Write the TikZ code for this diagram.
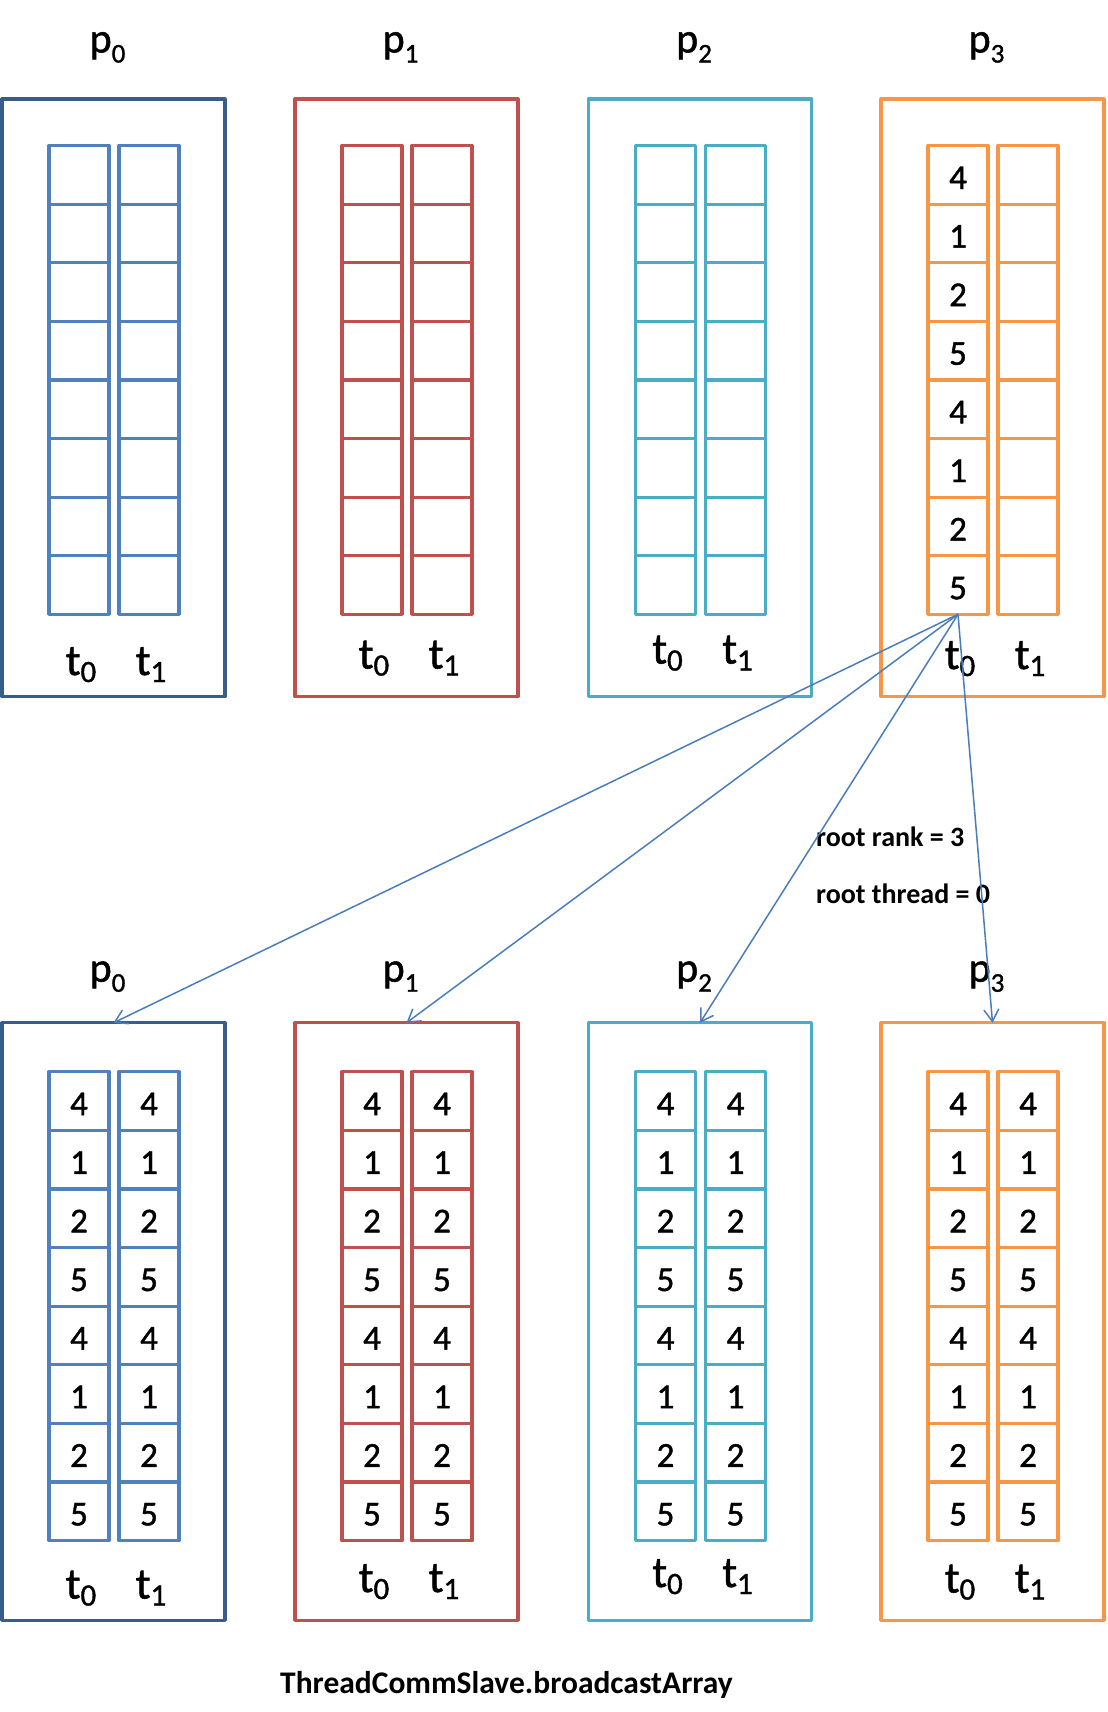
\documentclass[tikz,border=0pt]{standalone}
\usepackage{fontspec}
\setmainfont{Carlito}
\newfontfamily\medfont{Carlito}[FakeBold=1.2]
\usetikzlibrary{arrows.meta}
\definecolor{pzerobox}{HTML}{385D8A}
\definecolor{pzero}{HTML}{4F81BD}
\definecolor{pone}{HTML}{C0504D}
\definecolor{ptwo}{HTML}{4BACC6}
\definecolor{pthree}{HTML}{F79646}
\definecolor{arrowblue}{HTML}{4A7EBB}
\newcommand\plbl[2]{#1\raisebox{-10bp}{\fontsize{27bp}{27bp}\selectfont #2}}
\newcommand\tlbl[2]{#1\raisebox{-7bp}{\fontsize{31bp}{31bp}\selectfont #2}}
\begin{document}
\begin{tikzpicture}[x=1bp,y=-1bp,
 procbox/.style={draw, line width=3.2bp, rectangle, minimum width=223bp, minimum height=597.5bp, outer sep=0pt, inner sep=0pt, line join=round},
 cellbox/.style={draw, line width=3.2bp, rectangle, minimum width=60bp, minimum height=58.6bp, inner sep=0pt, outer sep=0pt, text height=28.4bp, text depth=0pt, font=\medfont\fontsize{35bp}{35bp}\selectfont, line join=round},
 plabel/.style={anchor=base, inner sep=0pt, font=\medfont\fontsize{42bp}{42bp}\selectfont},
 tlabel/.style={anchor=base, inner sep=0pt, font=\medfont\fontsize{44bp}{44bp}\selectfont},
 note/.style={anchor=base west, inner sep=0pt, font=\fontsize{28bp}{28bp}\selectfont\bfseries},
 bcast/.style={draw=arrowblue, line width=1.5bp, -{Straight Barb[length=12bp,width=15bp]}}
]
\useasboundingbox (0,0) rectangle (1107,1712);
\foreach \i/\bx/\bc/\cc/\dy in {0/2/pzerobox/pzero/0, 1/295/pone/pone/-6.5, 2/588.5/ptwo/ptwo/-11.5, 3/881/pthree/pthree/-6}{
  % top process box
  \node[procbox, draw=\bc] (tb-\i) at ({\bx+111.5},397.75) {};
  \node[plabel] (tp-\i) at ({\bx+105.5},52.5) {\plbl{p}{\i}};
  % bottom process box
  \node[procbox, draw=\bc] (bb-\i) at ({\bx+111.5},1321.55) {};
  \node[plabel] (bp-\i) at ({\bx+105.5},981.7) {\plbl{p}{\i}};
  \foreach \r/\v in {1/4,2/1,3/2,4/5,5/4,6/1,7/2,8/5}{
    \node[cellbox, draw=\cc] (tc-\i-0-\r) at ({\bx+77},{145.5+(\r-0.5)*58.6}) {\ifnum\i=3 \v\fi};
    \node[cellbox, draw=\cc] (tc-\i-1-\r) at ({\bx+147},{145.5+(\r-0.5)*58.6}) {};
    \node[cellbox, draw=\cc] (bc-\i-0-\r) at ({\bx+77},{1071.7+(\r-0.5)*58.6}) {\v};
    \node[cellbox, draw=\cc] (bc-\i-1-\r) at ({\bx+147},{1071.7+(\r-0.5)*58.6}) {\v};
  }
  \node[tlabel] (tt-\i-0) at ({\bx+79},{675+\dy}) {\tlbl{t}{0}};
  \node[tlabel] (tt-\i-1) at ({\bx+149},{675+\dy}) {\tlbl{t}{1}};
  \node[tlabel] (bt-\i-0) at ({\bx+79},{1598.5+\dy}) {\tlbl{t}{0}};
  \node[tlabel] (bt-\i-1) at ({\bx+149},{1598.5+\dy}) {\tlbl{t}{1}};
}
\node[note] (rootrank) at (816,846) {root rank = 3};
\node[note] (rootthread) at (816,903.3) {root thread = 0};
\node[anchor=base, inner sep=0pt, font=\fontsize{31.5bp}{31.5bp}\selectfont\bfseries] (caption) at (506.5,1693) {ThreadCommSlave.broadcastArray};
\foreach \i in {0,1,2,3}{
  \draw[bcast] (tc-3-0-8.south) -- (bb-\i.north);
}
\end{tikzpicture}
\end{document}
